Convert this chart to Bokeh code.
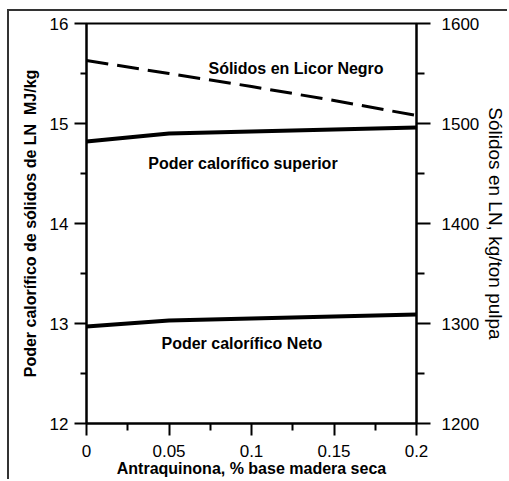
from bokeh.plotting import figure
from bokeh.models import Range1d, LinearAxis, FixedTicker
from bokeh.core.properties import value
from bokeh.embed import file_html
from bokeh.resources import INLINE

# ---- data ----
antraquinona = [0.0, 0.05, 0.10, 0.15, 0.20]
solidos_licor = [1563, 1550, 1537, 1523, 1508]          # right axis, kg/ton pulpa
poder_superior = [14.82, 14.90, 14.92, 14.94, 14.96]    # left axis, MJ/kg
poder_neto = [12.97, 13.03, 13.05, 13.07, 13.09]        # left axis, MJ/kg

x_ticks = [0, 0.05, 0.1, 0.15, 0.2]
x_tick_labels = ["0", "0.05", "0.1", "0.15", "0.2"]
x_minor = [0.025, 0.075, 0.125, 0.175]
yl_ticks = [12, 13, 14, 15, 16]
yl_minor = [12.5, 13.5, 14.5, 15.5]
yr_ticks = [1200, 1300, 1400, 1500, 1600]
yr_minor = [1250, 1350, 1450, 1550]

FONT = "Liberation Sans"

# outer frame: border on left and top, offset into the window
OFF_X, OFF_Y = 7, 9
W, H = 509 - OFF_X - 2, 481 - OFF_Y - 2
p = figure(width=W, height=H,
           output_backend="svg", toolbar_location=None,
           x_range=Range1d(0, 0.2), y_range=Range1d(12, 16),
           min_border_left=77, min_border_right=93,
           min_border_top=12, min_border_bottom=58,
           x_axis_label="Antraquinona, % base madera seca",
           y_axis_label="Poder calorífico de sólidos de LN\u00a0 MJ/kg")
p.styles = {"margin-left": f"{OFF_X}px", "margin-top": f"{OFF_Y}px",
            "border-left": "2px solid #333333", "border-top": "2px solid #333333"}
p.extra_y_ranges = {"r": Range1d(1200, 1600)}
p.grid.visible = False
p.outline_line_color = "black"
p.outline_line_width = 2
p.background_fill_color = "white"
p.border_fill_color = "white"

raxis = LinearAxis(y_range_name="r", axis_label="Sólidos en LN, kg/ton pulpa")
p.add_layout(raxis, "right")

p.xaxis.ticker = FixedTicker(ticks=x_ticks, minor_ticks=x_minor)
p.xaxis.major_label_overrides = {t: l for t, l in zip(x_ticks, x_tick_labels)}
p.yaxis[0].ticker = FixedTicker(ticks=yl_ticks, minor_ticks=yl_minor)
raxis.ticker = FixedTicker(ticks=yr_ticks, minor_ticks=yr_minor)

for ax in [p.xaxis[0], p.yaxis[0], raxis]:
    ax.axis_line_width = 2
    ax.axis_line_color = "black"
    ax.major_tick_line_width = 2
    ax.minor_tick_line_width = 2
    ax.major_tick_line_color = "black"
    ax.minor_tick_line_color = "black"
    ax.major_tick_in = 0
    ax.minor_tick_in = 0
    ax.major_label_text_font = FONT
    ax.major_label_text_font_size = "17px"
    ax.major_label_text_color = "black"
    ax.axis_label_text_font = FONT
    ax.axis_label_text_color = "black"

p.xaxis.major_tick_out = 12
p.xaxis.minor_tick_out = 7
p.xaxis.major_label_standoff = 9
p.xaxis.axis_label_standoff = 0
p.xaxis.axis_label_text_font_size = "16px"
p.xaxis.axis_label_text_font_style = "bold"

p.yaxis[0].major_tick_out = 12
p.yaxis[0].minor_tick_out = 6
p.yaxis[0].major_label_standoff = 6
p.yaxis[0].axis_label_standoff = 8
p.yaxis[0].axis_label_text_font_size = "16px"
p.yaxis[0].axis_label_text_font_style = "bold"

raxis.major_tick_out = 14
raxis.minor_tick_out = 8
raxis.major_label_standoff = 11
raxis.axis_label_standoff = 3
raxis.axis_label_text_font_size = "19px"
raxis.axis_label_text_font_style = "normal"

# ---- series ----
p.line(antraquinona, solidos_licor, y_range_name="r", line_color="black",
       line_width=3, line_dash="22 9")
p.line(antraquinona, poder_superior, line_color="black", line_width=4)
p.line(antraquinona, poder_neto, line_color="black", line_width=4)

# ---- labels ----
p.text(x=[0.127], y=[15.553], text=["Sólidos en Licor Negro"], text_align="center",
       text_baseline="alphabetic", text_font=value(FONT), text_font_size="16px",
       text_font_style="bold", text_color="black")
p.text(x=[0.0948], y=[14.60], text=["Poder calorífico superior"], text_align="center",
       text_baseline="alphabetic", text_font=value(FONT), text_font_size="16px",
       text_font_style="bold", text_color="black")
p.text(x=[0.0942], y=[12.805], text=["Poder calorífico Neto"], text_align="center",
       text_baseline="alphabetic", text_font=value(FONT), text_font_size="16px",
       text_font_style="bold", text_color="black")

open("out.html", "w").write(file_html(p, INLINE))
